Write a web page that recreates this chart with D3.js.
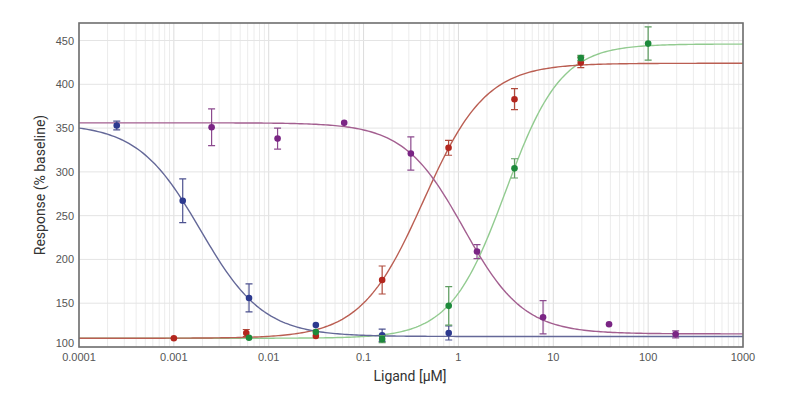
<!DOCTYPE html>
<html>
<head>
<meta charset="utf-8">
<script src="https://cdn.jsdelivr.net/npm/d3@7"></script>
<style>
  body { margin: 0; background: #fff; }
  svg { display: block; }
</style>
</head>
<body>
<script>
const WIDTH = 805
const HEIGHT = 394

const MARGIN = { left: 79, right: 62, top: 23, bottom: 47 }

// concentrations in µM, responses in % baseline, error = half bar length
const blueConc = [0.00025, 0.00124, 0.0062, 0.0314, 0.157, 0.79]
const blueResp = [353, 267, 156, 125, 113.5, 116]
const blueErr = [5, 25, 16, 0, 7, 8]

const purpleConc = [0.0025, 0.0124, 0.0625, 0.315, 1.57, 7.8, 38.7, 195]
const purpleResp = [351, 338, 356, 321, 209, 134, 126, 114.5]
const purpleErr = [21, 12, 0, 19, 8, 19, 0, 4]

const redConc = [0.001, 0.0058, 0.0314, 0.157, 0.787, 3.9, 19.5]
const redResp = [110, 116, 112.5, 176.5, 327.5, 383, 425]
const redErr = [0, 4, 0, 16, 8.5, 12, 6]

const greenConc = [0.0062, 0.0314, 0.157, 0.79, 3.9, 19.5, 100]
const greenResp = [110.5, 117, 109, 147, 304, 430, 446.5]
const greenErr = [0, 0, 4, 22, 11, 3, 19]

// fitted four-parameter logistic curves: bottom, top, EC50 (µM), hill slope
const fitBottom = [112, 115, 110, 110]
const fitTop = [355, 356, 424, 446]
const fitEC50 = [0.00191, 1.137, 0.428, 3.15]
const fitHill = [-1.31, -1.38, 1.32, 1.49]

const xTicks = [0.0001, 0.001, 0.01, 0.1, 1, 10, 100, 1000]
const xTickLabels = ["0.0001", "0.001", "0.01", "0.1", "1", "10", "100", "1000"]
const yTicks = [100, 150, 200, 250, 300, 350, 400, 450]

const series = [
    { conc: blueConc, resp: blueResp, err: blueErr, marker: "#2d3a8f", bar: "#4d5290", line: "#646898" },
    { conc: purpleConc, resp: purpleResp, err: purpleErr, marker: "#7a2584", bar: "#8c4a8e", line: "#a35f90" },
    { conc: redConc, resp: redResp, err: redErr, marker: "#b3261e", bar: "#b04a3c", line: "#ba5e52" },
    { conc: greenConc, resp: greenResp, err: greenErr, marker: "#1d8a3b", bar: "#5f9e62", line: "#92cb90" }
]

const svg = d3
    .select("body")
    .append("svg")
    .attr("width", WIDTH)
    .attr("height", HEIGHT)

const x = d3
    .scaleLog()
    .domain([1e-4, 1e3])
    .range([MARGIN.left, WIDTH - MARGIN.right])

const y = d3
    .scaleLinear()
    .domain([100, 470])
    .range([HEIGHT - MARGIN.bottom, MARGIN.top])

const plotW = WIDTH - MARGIN.left - MARGIN.right
const plotH = HEIGHT - MARGIN.top - MARGIN.bottom

// grid
const minorTicks = x.ticks(70)
svg.append("g")
    .selectAll("line")
    .data(minorTicks)
    .enter()
    .append("line")
    .attr("x1", d => x(d))
    .attr("x2", d => x(d))
    .attr("y1", MARGIN.top)
    .attr("y2", HEIGHT - MARGIN.bottom)
    .attr("stroke", d => xTicks.includes(d) ? "#dcdcdc" : "#ececec")
    .attr("stroke-width", 1)

svg.append("g")
    .selectAll("line")
    .data(yTicks)
    .enter()
    .append("line")
    .attr("x1", MARGIN.left)
    .attr("x2", WIDTH - MARGIN.right)
    .attr("y1", d => y(d))
    .attr("y2", d => y(d))
    .attr("stroke", "#e4e4e4")
    .attr("stroke-width", 1)

svg.append("defs")
    .append("clipPath")
    .attr("id", "clip")
    .append("rect")
    .attr("x", MARGIN.left)
    .attr("y", MARGIN.top)
    .attr("width", plotW)
    .attr("height", plotH)

// fitted curves
const samples = d3.range(0, 281).map(i => Math.pow(10, -4 + i * 7 / 280))
const line = d3.line()
    .x(d => x(d[0]))
    .y(d => y(d[1]))

const curves = svg.append("g").attr("clip-path", "url(#clip)")
const curveOrder = [3, 2, 1, 0]
curveOrder.forEach(i => {
    const pts = samples.map(c => [
        c,
        fitBottom[i] + (fitTop[i] - fitBottom[i]) / (1 + Math.pow(fitEC50[i] / c, fitHill[i]))
    ])
    curves.append("path")
        .datum(pts)
        .attr("d", line)
        .attr("fill", "none")
        .attr("stroke", series[i].line)
        .attr("stroke-width", 1.4)
})

// error bars and markers
const marks = svg.append("g")
series.forEach(s => {
    const pts = s.conc.map((c, i) => ({ c: c, r: s.resp[i], e: s.err[i] }))
    const withErr = pts.filter(p => p.e > 0)
    const g = marks.append("g")

    g.selectAll(".bar")
        .data(withErr)
        .enter()
        .append("path")
        .attr("d", p => {
            const cx = x(p.c)
            const t = y(p.r + p.e)
            const b = y(p.r - p.e)
            return `M${cx - 3.5},${t}H${cx + 3.5}M${cx},${t}V${b}M${cx - 3.5},${b}H${cx + 3.5}`
        })
        .attr("fill", "none")
        .attr("stroke", s.bar)
        .attr("stroke-width", 1.2)

    g.selectAll(".dot")
        .data(pts)
        .enter()
        .append("circle")
        .attr("cx", p => x(p.c))
        .attr("cy", p => y(p.r))
        .attr("r", 3.3)
        .attr("fill", s.marker)
})

// frame
svg.append("rect")
    .attr("x", MARGIN.left)
    .attr("y", MARGIN.top)
    .attr("width", plotW)
    .attr("height", plotH)
    .attr("fill", "none")
    .attr("stroke", "#6e6e6e")
    .attr("stroke-width", 1.6)

// tick labels
svg.append("g")
    .selectAll("text")
    .data(xTicks)
    .enter()
    .append("text")
    .attr("x", d => x(d))
    .attr("y", HEIGHT - MARGIN.bottom + 14)
    .attr("text-anchor", "middle")
    .attr("font-family", "Liberation Sans, Arial, sans-serif")
    .attr("font-size", 11)
    .attr("fill", "#555")
    .text((d, i) => xTickLabels[i])

svg.append("g")
    .selectAll("text")
    .data(yTicks)
    .enter()
    .append("text")
    .attr("x", MARGIN.left - 5)
    .attr("y", d => y(d) + (d === 100 ? 0 : 4))
    .attr("text-anchor", "end")
    .attr("font-family", "Liberation Sans, Arial, sans-serif")
    .attr("font-size", 11)
    .attr("fill", "#555")
    .text(d => d)

// axis titles
svg.append("text")
    .attr("x", 410)
    .attr("y", 381)
    .attr("text-anchor", "middle")
    .attr("font-family", "Roboto, sans-serif")
    .attr("font-size", 14)
    .attr("fill", "#333")
    .text("Ligand [µM]")

svg.append("text")
    .attr("transform", "translate(45,185) rotate(-90)")
    .attr("text-anchor", "middle")
    .attr("font-family", "Roboto, sans-serif")
    .attr("font-size", 14)
    .attr("fill", "#333")
    .text("Response (% baseline)")
</script>
</body>
</html>
